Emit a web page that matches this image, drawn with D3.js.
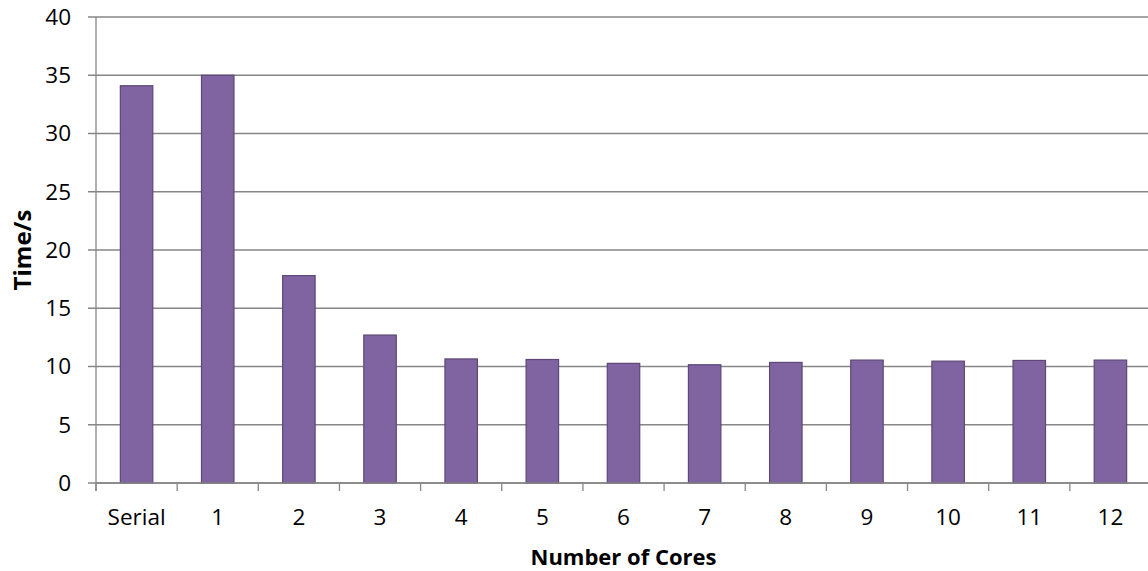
<!DOCTYPE html>
<html>
<head>
<meta charset="utf-8">
<script src="https://cdn.jsdelivr.net/npm/d3@7"></script>
<style>
  html, body { margin: 0; padding: 0; background: #fff; }
  svg { display: block; font-family: "Open Sans", "Noto Sans", sans-serif; }
</style>
</head>
<body>
<svg id="chart" width="1148" height="571"></svg>
<script>
// Run time per configuration
const categories = ["Serial", "1", "2", "3", "4", "5", "6", "7", "8", "9", "10", "11", "12"];
const times = [34.1, 35.0, 17.8, 12.7, 10.65, 10.6, 10.27, 10.15, 10.35, 10.55, 10.46, 10.52, 10.55];
const yTicks = [0, 5, 10, 15, 20, 25, 30, 35, 40];

const svg = d3.select("#chart");
const margin = { left: 96, right: -3, top: 17, bottom: 88 };
const width = 1148, height = 571;

const x = d3.scaleBand()
  .domain(categories)
  .range([margin.left, width - margin.right])
  .paddingInner(0.6)
  .paddingOuter(0.3);

const y = d3.scaleLinear()
  .domain([0, 40])
  .range([height - margin.bottom, margin.top]);

const gridColor = "#868686";

// horizontal gridlines
svg.append("g")
  .selectAll("line")
  .data(yTicks)
  .join("line")
  .attr("x1", margin.left - 8)
  .attr("x2", width - margin.right)
  .attr("y1", d => y(d))
  .attr("y2", d => y(d))
  .attr("stroke", gridColor)
  .attr("stroke-width", 1.3);

// y axis labels
svg.append("g")
  .selectAll("text")
  .data(yTicks)
  .join("text")
  .attr("x", 71)
  .attr("y", d => y(d))
  .attr("dy", "0.35em")
  .attr("text-anchor", "end")
  .attr("font-size", 22.5)
  .attr("fill", "#000")
  .text(d => d);

// bars
svg.append("g")
  .selectAll("rect")
  .data(categories.map((c, i) => ({ c, v: times[i] })))
  .join("rect")
  .attr("x", d => x(d.c))
  .attr("width", x.bandwidth())
  .attr("y", d => y(d.v))
  .attr("height", d => y(0) - y(d.v))
  .attr("fill", "#8064A2")
  .attr("stroke", "#5C4776")
  .attr("stroke-width", 1.2);

// vertical axis line
svg.append("line")
  .attr("x1", margin.left).attr("x2", margin.left)
  .attr("y1", y(40)).attr("y2", y(0) + 8)
  .attr("stroke", gridColor)
  .attr("stroke-width", 1.3);

// x axis line and category boundary ticks
svg.append("line")
  .attr("x1", margin.left).attr("x2", width)
  .attr("y1", y(0)).attr("y2", y(0))
  .attr("stroke", gridColor)
  .attr("stroke-width", 1.3);

const step = x.step();
const bounds = d3.range(categories.length + 1).map(i => margin.left + i * step);
svg.append("g")
  .selectAll("line")
  .data(bounds)
  .join("line")
  .attr("x1", d => d).attr("x2", d => d)
  .attr("y1", y(0)).attr("y2", y(0) + 8)
  .attr("stroke", gridColor)
  .attr("stroke-width", 1.3);

// category labels
svg.append("g")
  .selectAll("text")
  .data(categories)
  .join("text")
  .attr("x", d => x(d) + x.bandwidth() / 2)
  .attr("y", 525)
  .attr("text-anchor", "middle")
  .attr("font-size", 22.5)
  .attr("fill", "#000")
  .text(d => d);

// axis titles
svg.append("text")
  .attr("x", (margin.left + width - margin.right) / 2)
  .attr("y", 565)
  .attr("text-anchor", "middle")
  .attr("font-size", 22)
  .attr("font-weight", "bold")
  .text("Number of Cores");

svg.append("text")
  .attr("transform", `translate(31, ${(y(0) + y(40)) / 2}) rotate(-90)`)
  .attr("text-anchor", "middle")
  .attr("font-size", 24)
  .attr("font-weight", "bold")
  .text("Time/s");
</script>
</body>
</html>
